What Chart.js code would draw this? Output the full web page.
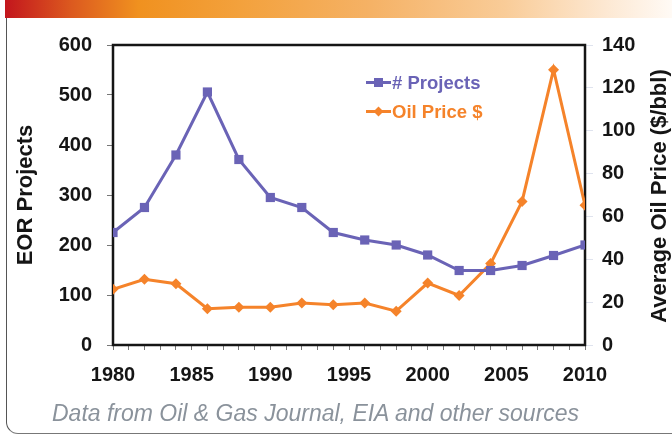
<!DOCTYPE html>
<html>
<head>
<meta charset="utf-8">
<script src="https://cdn.jsdelivr.net/npm/chart.js@4.4.1/dist/chart.umd.min.js"></script>
<style>
  html, body { margin: 0; padding: 0; background: #fff; }
  #wrap { position: relative; width: 672px; height: 436px; overflow: hidden; font-family: "Liberation Sans", Arial, sans-serif; }
  #header { position: absolute; left: 5px; top: 0; width: 667px; height: 18px;
    background: linear-gradient(to right, #c3161d 0%, #dc5a1f 10%, #f0911f 20%, #f3a13c 35%, #f5b266 55%, #f9cc98 75%, #fde8d2 90%, #fffaf5 100%); }
  #frame { position: absolute; left: 6px; top: 18px; width: 720px; height: 415px;
    border-left: 1.5px solid #555; border-bottom: 1.5px solid #777; border-bottom-left-radius: 12px; }
  #chart { position: absolute; left: 0; top: 0; }
  #legend { position: absolute; left: 366px; top: 68px; font-weight: bold; font-size: 18.5px; line-height: 29px; }
  #legend div { display: flex; align-items: center; white-space: nowrap; }
  #legend svg { margin-right: 1px; }
  #caption { position: absolute; left: 52px; top: 400px; font-style: italic; font-size: 23px; color: #8a929b; white-space: nowrap; }
</style>
</head>
<body>
<div id="wrap">
  <div id="header"></div>
  <div id="frame"></div>
  <canvas id="chart" width="672" height="436"></canvas>
  <div id="legend"></div>
  <div id="caption">Data from Oil &amp; Gas Journal, EIA and other sources</div>
</div>
<script>
// donnees
const years = [1980, 1982, 1984, 1986, 1988, 1990, 1992, 1994, 1996, 1998, 2000, 2002, 2004, 2006, 2008, 2010];
const projects = [225, 275, 380, 506, 371, 295, 275, 225, 210, 200, 180, 149, 149, 159, 179, 200];
const oilPrice = [26, 30.7, 28.6, 16.9, 17.6, 17.6, 19.6, 18.8, 19.6, 15.8, 28.9, 23.1, 38, 67, 128.5, 65.2];
const projectTicks = [0, 100, 200, 300, 400, 500, 600];
const priceTicks = [0, 20, 40, 60, 80, 100, 120, 140];

const purple = '#6a63b6';
const orange = '#f5832a';
const tickFont = { family: '"Liberation Sans", Arial, sans-serif', size: 20, weight: 'bold' };

// legende HTML dans la zone du graphique
function legendRow(label, color, shape) {
    const marker = shape === 'square'
        ? `<rect x="8" y="5" width="9" height="9" fill="${color}"/>`
        : `<polygon points="12.5,4.5 17.5,9.5 12.5,14.5 7.5,9.5" fill="${color}"/>`;
    return `<div style="color:${color}"><svg width="25" height="19"><line x1="0" y1="9.5" x2="25" y2="9.5" stroke="${color}" stroke-width="3"/>${marker}</svg>${label}</div>`;
}
document.getElementById('legend').innerHTML =
    legendRow('# Projects', purple, 'square') + legendRow('Oil Price $', orange, 'diamond');

// cadre noir autour de la zone et titre de l'axe de droite
const framePlugin = {
    id: 'frame',
    beforeDatasetsDraw(chart) {
        const a = chart.chartArea;
        const ctx = chart.ctx;
        ctx.save();
        ctx.strokeStyle = '#151515';
        ctx.lineWidth = 2.5;
        ctx.strokeRect(a.left, a.top, a.right - a.left, a.bottom - a.top);
        ctx.restore();
    },
    afterDraw(chart) {
        const a = chart.chartArea;
        const ctx = chart.ctx;
        ctx.save();
        ctx.translate(660, (a.top + a.bottom) / 2 + 1);
        ctx.rotate(-Math.PI / 2);
        ctx.font = 'bold 22px "Liberation Sans", Arial, sans-serif';
        ctx.fillStyle = '#151515';
        ctx.textAlign = 'center';
        ctx.textBaseline = 'middle';
        ctx.fillText('Average Oil Price ($/bbl)', 0, 0);
        ctx.restore();
    }
};

const ctx = document.getElementById('chart').getContext('2d');
new Chart(ctx, {
    type: 'line',
    data: {
        datasets: [{
            label: '# Projects',
            data: years.map((y, i) => ({ x: y, y: projects[i] })),
            yAxisID: 'y',
            borderColor: purple,
            backgroundColor: purple,
            borderWidth: 3,
            pointStyle: 'rect',
            pointRadius: 6.5,
            pointBorderWidth: 0
        }, {
            label: 'Oil Price $',
            data: years.map((y, i) => ({ x: y, y: oilPrice[i] })),
            yAxisID: 'y1',
            borderColor: orange,
            backgroundColor: orange,
            borderWidth: 3,
            pointStyle: 'rectRot',
            pointRadius: 5.5,
            pointBorderWidth: 0
        }]
    },
    options: {
        responsive: false,
        animation: false,
        layout: { padding: { top: 45, bottom: 0, left: 0, right: 0 } },
        plugins: {
            legend: { display: false },
            tooltip: { enabled: false }
        },
        scales: {
            x: {
                type: 'linear',
                min: 1980,
                max: 2010,
                afterFit: s => { s.height = 91; },
                border: { display: false },
                grid: { drawOnChartArea: false, tickLength: 5, color: '#777' },
                ticks: {
                    stepSize: 1,
                    autoSkip: false,
                    maxRotation: 0,
                    padding: 13,
                    color: '#151515',
                    font: tickFont,
                    callback: v => (v % 5 === 0 ? String(v) : '')
                }
            },
            y: {
                position: 'left',
                min: 0,
                max: 600,
                afterFit: s => { s.width = 113; },
                afterBuildTicks: s => { s.ticks = projectTicks.map(v => ({ value: v })); },
                border: { display: false },
                grid: { drawOnChartArea: false, tickLength: 6, color: '#777' },
                ticks: { padding: 15, color: '#151515', font: tickFont },
                title: {
                    display: true,
                    text: 'EOR Projects',
                    color: '#151515',
                    font: { family: '"Liberation Sans", Arial, sans-serif', size: 22, weight: 'bold' },
                    padding: { top: 13, bottom: 0 }
                }
            },
            y1: {
                position: 'right',
                min: 0,
                max: 140,
                afterFit: s => { s.width = 87; },
                afterBuildTicks: s => { s.ticks = priceTicks.map(v => ({ value: v })); },
                border: { display: false },
                grid: { drawOnChartArea: false, tickLength: 8, color: '#dfe3ee' },
                ticks: { padding: 9, color: '#151515', font: tickFont }
            }
        }
    },
    plugins: [framePlugin]
});
</script>
</body>
</html>
